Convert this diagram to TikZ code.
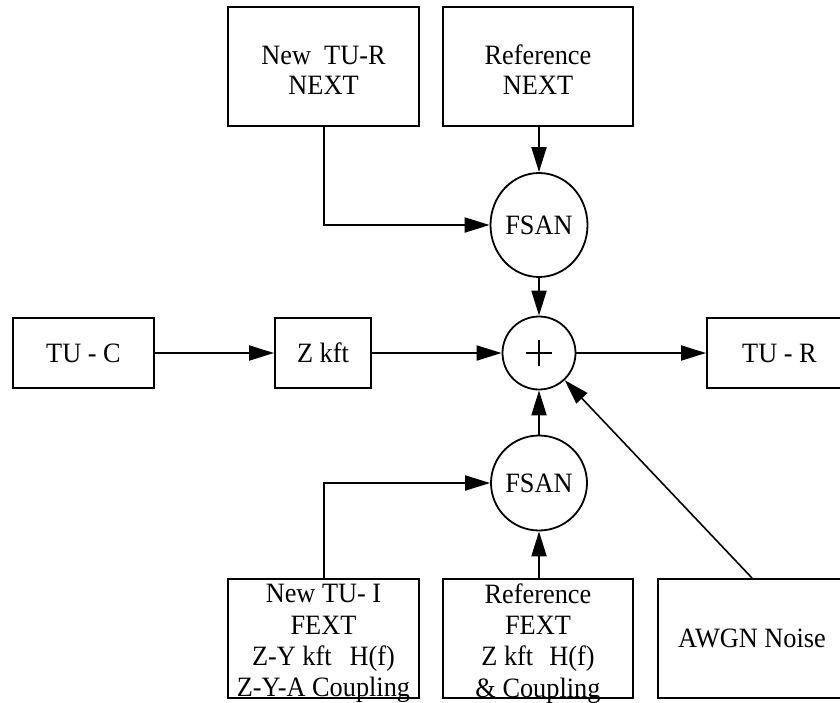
\documentclass[tikz,border=0pt]{standalone}
\usepackage{fontspec}
\setmainfont{Liberation Serif}[FakeStretch=0.94]
\usetikzlibrary{arrows.meta,shapes.geometric}
\tikzset{
  box/.style={draw, line width=1pt, rectangle, inner sep=0pt, align=center,
    font=\fontsize{14}{15.7}\selectfont},
  txt/.style={inner sep=0pt, align=center, font=\fontsize{14}{15.6}\selectfont},
  fsan/.style={draw, line width=0.9pt, ellipse, inner sep=0pt,
    font=\fontsize{14}{15.7}\selectfont},
  arr/.style={line width=1pt, -{Triangle[length=12.5pt,width=7.5pt]}},
  thinarr/.style={line width=0.8pt, -{Triangle[length=12.5pt,width=7.5pt]}}
}
\begin{document}
\begin{tikzpicture}[x=0.5pt,y=-0.5pt]
\useasboundingbox (0,0) rectangle (840,702);
\clip (0,0) rectangle (840,702);
% top row
\node[box, minimum width=95.5pt, minimum height=59.5pt] (nr) at (323.5,66.5) {};
\node[txt, font=\fontsize{14}{15}\selectfont] (nrt) at (323.5,70) {New\ \ TU-R\\NEXT};
\node[box, minimum width=95pt, minimum height=59.5pt] (rn) at (538,66.5) {};
\node[txt, font=\fontsize{14}{15}\selectfont] (rnt) at (538,70) {Reference\\NEXT};
\node[fsan, minimum width=48.5pt, minimum height=52pt] (fs1) at (539,225) {FSAN};
% middle row
\node[box, minimum width=70.5pt, minimum height=35pt] (tuc) at (83.5,353) {TU - C};
\node[box, minimum width=48pt, minimum height=35pt] (zk) at (323,353) {Z kft};
\node[draw, circle, line width=0.9pt, minimum size=36.5pt, inner sep=0pt] (plus) at (539,353) {};
\node[box, minimum width=72.5pt, minimum height=35pt] (tur) at (779.5,353) {TU - R};
% bottom
\node[fsan, minimum width=48pt, minimum height=47.5pt] (fs2) at (539,483) {FSAN};
\node[box, minimum width=95.5pt, minimum height=59.5pt] (ni) at (323.5,638.5) {};
\node[txt] (nit) at (323.5,643.5) {New TU- I\\FEXT\\Z-Y kft\hspace{9pt}H(f)\\Z-Y-A Coupling};
\node[box, minimum width=95pt, minimum height=59.5pt] (rf) at (538,638.5) {};
\node[txt] (rft) at (538,643.5) {Reference\\FEXT\\Z kft\hspace{8pt}H(f)\\\& Coupling};
\node[box, minimum width=94pt, minimum height=59.5pt] (aw) at (752,638.5) {AWGN Noise};
% plus sign
\draw[line width=0.7pt] ([xshift=-6.5pt]plus.center) -- ([xshift=6.5pt]plus.center);
\draw[line width=0.7pt] ([yshift=-6.5pt]plus.center) -- ([yshift=6.5pt]plus.center);
% connectors
\draw[arr] (nr.south) |- (fs1.west);
\draw[arr] (fs1.north |- rn.south) -- (fs1.north);
\draw[arr] (fs1.south) -- (plus.north);
\draw[arr] (tuc.east) -- (zk.west);
\draw[arr] (zk.east) -- (plus.west);
\draw[arr] (plus.east) -- (tur.west);
\draw[arr] (fs2.north) -- (plus.south);
\draw[arr] (fs2.south |- rf.north) -- (fs2.south);
\draw[arr] (ni.north) |- (fs2.west);
\draw[thinarr] (aw.north) -- (plus);
\end{tikzpicture}
\end{document}
